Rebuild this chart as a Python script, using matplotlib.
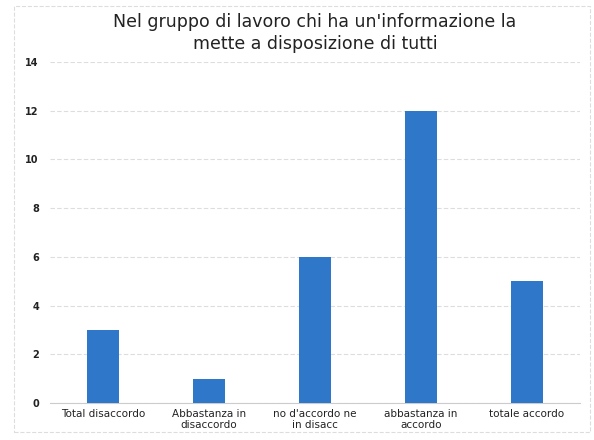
import matplotlib.pyplot as plt

# Dati del grafico
categorie = ['Total disaccordo', 'Abbastanza in\ndisaccordo', "no d'accordo ne\nin disacc",
             'abbastanza in\naccordo', 'totale accordo']
valori = [3, 1, 6, 12, 5]
tick_y = [0, 2, 4, 6, 8, 10, 12, 14]

fig = plt.figure(figsize=(5.94, 4.4), dpi=100)
ax = fig.add_axes([50 / 594, 37 / 440, 530 / 594, 341 / 440])

x = range(len(categorie))
ax.bar(x, valori, width=0.3, color='#2f78c9', zorder=3)

ax.set_xlim(-0.5, 4.5)
ax.set_ylim(0, 14)
ax.set_yticks(tick_y)
ax.set_xticks(list(x))
ax.set_xticklabels(categorie, fontsize=7.5, color='#222222')
ax.tick_params(axis='y', labelsize=7, colors='#222222', length=0, pad=8)
ax.tick_params(axis='x', length=0, pad=4)
for lab in ax.get_yticklabels():
    lab.set_fontweight('bold')

ax.grid(axis='y', color='#dddddd', linewidth=0.8, linestyle=(0, (4, 2)), zorder=0)
for s in ['top', 'right', 'left']:
    ax.spines[s].set_visible(False)
ax.spines['bottom'].set_color('#cccccc')

fig.text(0.53, 0.925, "Nel gruppo di lavoro chi ha un'informazione la\nmette a disposizione di tutti",
         ha='center', va='center', fontsize=12.5, color='#222222', linespacing=1.3)

# cornice esterna leggera
fig.patches.append(plt.Rectangle((14 / 594, 8 / 440), 576 / 594, 426 / 440,
                                 transform=fig.transFigure, fill=False,
                                 edgecolor='#dddddd', linewidth=0.8, linestyle='--'))

fig.savefig('out.png', dpi=100)
